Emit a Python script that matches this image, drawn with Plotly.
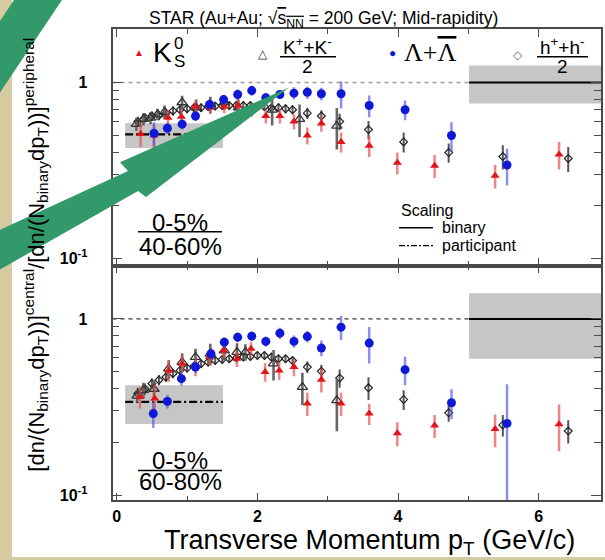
import plotly.graph_objects as go

W, H = 605, 560

# ---------------- data ----------------
k0s_pt_a = [0.34, 0.53, 0.73, 0.92, 1.12, 1.33, 1.53, 1.72, 1.92, 2.12, 2.32, 2.52, 2.71, 2.91, 3.19, 3.59, 3.99, 4.52, 5.38, 6.29]
k0s_rcp_a = [0.51, 0.50, 0.63, 0.64, 0.73, 0.72, 0.73, 0.74, 0.70, 0.645, 0.645, 0.60, 0.50, 0.585, 0.46, 0.437, 0.35, 0.337, 0.295, 0.39]
k0s_err_a = [0.08, 0.08, 0.07, 0.06, 0.06, 0.06, 0.06, 0.06, 0.06, 0.06, 0.06, 0.06, 0.055, 0.06, 0.06, 0.06, 0.05, 0.05, 0.045, 0.07]

lam_pt_a = [0.53, 0.72, 0.93, 1.12, 1.32, 1.52, 1.72, 1.92, 2.12, 2.32, 2.52, 2.71, 2.91, 3.19, 3.59, 4.10, 4.76, 5.55]
lam_rcp_a = [0.515, 0.55, 0.58, 0.645, 0.75, 0.80, 0.855, 0.90, 0.82, 0.855, 0.87, 0.88, 0.863, 0.863, 0.74, 0.70, 0.50, 0.34]
lam_err_a = [0.08, 0.04, 0.04, 0.04, 0.05, 0.05, 0.06, 0.06, 0.05, 0.05, 0.07, 0.07, 0.07, 0.15, 0.105, 0.09, 0.095, 0.08]

h_pt_a = [0.3, 0.4, 0.5, 0.6, 0.7, 0.8, 0.9, 1.0, 1.1, 1.2, 1.3, 1.4, 1.5, 1.6, 1.7, 1.8, 1.9, 2.0, 2.1, 2.2, 2.3, 2.4, 2.5,
          2.71, 2.91, 3.17, 3.58, 4.08, 4.72, 5.49, 6.42]
h_rcp_a = [0.60, 0.63, 0.645, 0.65, 0.67, 0.69, 0.70, 0.71, 0.72, 0.72, 0.73, 0.735, 0.74, 0.74, 0.74, 0.74, 0.74, 0.73, 0.73, 0.72, 0.72, 0.71, 0.70,
           0.67, 0.645, 0.60, 0.54, 0.46, 0.40, 0.38, 0.37]
h_err_a = [0.04, 0.04, 0.04, 0.04, 0.04, 0.04, 0.04, 0.04, 0.04, 0.04, 0.04, 0.04, 0.04, 0.04, 0.04, 0.04, 0.04, 0.04, 0.04, 0.04, 0.04, 0.04, 0.04,
           0.05, 0.05, 0.065, 0.065, 0.06, 0.05, 0.06, 0.06]

kch_pt_a = [0.28, 0.38, 0.48, 0.58, 0.68, 0.93, 1.13, 1.33, 1.53, 1.73, 2.21, 2.60, 3.13]
kch_rcp_a = [0.58, 0.62, 0.63, 0.66, 0.68, 0.77, 0.72, 0.75, 0.77, 0.72, 0.70, 0.62, 0.567]
kch_err_a = [0.05, 0.05, 0.05, 0.05, 0.06, 0.07, 0.08, 0.08, 0.07, 0.08, 0.13, 0.13, 0.15]

k0s_pt_b = [0.33, 0.54, 0.74, 0.93, 1.12, 1.32, 1.52, 1.71, 1.91, 2.11, 2.31, 2.52, 2.71, 2.91, 3.19, 3.59, 3.99, 4.52, 5.38, 6.29]
k0s_rcp_b = [0.36, 0.353, 0.51, 0.557, 0.533, 0.608, 0.662, 0.594, 0.677, 0.50, 0.51, 0.533, 0.331, 0.452, 0.331, 0.29, 0.224, 0.248, 0.237, 0.252]
k0s_err_b = [0.05, 0.07, 0.07, 0.06, 0.06, 0.06, 0.06, 0.06, 0.06, 0.06, 0.06, 0.06, 0.05, 0.07, 0.05, 0.04, 0.035, 0.037, 0.05, 0.075]

lam_pt_b = [0.52, 0.72, 0.92, 1.12, 1.34, 1.53, 1.72, 1.92, 2.12, 2.32, 2.52, 2.71, 2.91, 3.19, 3.59, 4.10, 4.76, 5.55]
lam_rcp_b = [0.29, 0.34, 0.458, 0.533, 0.634, 0.738, 0.788, 0.798, 0.745, 0.83, 0.745, 0.794, 0.683, 0.898, 0.729, 0.515, 0.334, 0.255]
lam_err_b = [0.05, 0.03, 0.04, 0.04, 0.05, 0.05, 0.05, 0.05, 0.05, 0.06, 0.06, 0.06, 0.07, 0.14, 0.17, 0.095, 0.065, 0.17]

h_pt_b = h_pt_a
h_rcp_b = [0.377, 0.40, 0.43, 0.45, 0.468, 0.49, 0.51, 0.526, 0.54, 0.557, 0.569, 0.581, 0.589, 0.594, 0.60, 0.607, 0.612, 0.62, 0.62, 0.607, 0.594, 0.594, 0.58,
           0.533, 0.504, 0.462, 0.406, 0.349, 0.293, 0.25, 0.231]
h_err_b = [0.03, 0.03, 0.03, 0.03, 0.03, 0.03, 0.03, 0.03, 0.03, 0.03, 0.03, 0.03, 0.03, 0.03, 0.03, 0.03, 0.03, 0.03, 0.03, 0.03, 0.03, 0.03, 0.03,
           0.04, 0.045, 0.055, 0.06, 0.045, 0.032, 0.035, 0.035]

kch_pt_b = [0.29, 0.38, 0.53, 0.74, 0.93, 1.12, 1.33, 1.53, 1.71, 1.83, 2.23, 2.64, 3.13]
kch_rcp_b = [0.366, 0.394, 0.40, 0.522, 0.569, 0.607, 0.634, 0.66, 0.648, 0.648, 0.557, 0.41, 0.345]
kch_err_b = [0.03, 0.04, 0.05, 0.06, 0.07, 0.07, 0.09, 0.08, 0.08, 0.07, 0.11, 0.085, 0.115]

band_pt_low = [0.12, 1.51]
band_pt_high = [5.01, 7.0]
npart_a, npart_lo_a, npart_hi_a = 0.508, 0.424, 0.587
npart_b, npart_lo_b, npart_hi_b = 0.338, 0.253, 0.42
nbin_lo_a, nbin_hi_a = 0.76, 1.25
nbin_lo_b, nbin_hi_b = 0.594, 1.40
nbin = 1.0

x_range = [-0.06, 6.886]
ylog_range_a = [-1.04, 0.305]
ylog_range_b = [-1.03, 0.303]

arrow_small_x = [14, 62, 0, 0, 14]
arrow_small_y = [0, 0, 93, 21, 0]
arrow_big_x = [0, 128, 120, 289, 146, 138, 0, 0]
arrow_big_y = [231, 172, 163, 88, 198, 192, 271, 231]

# ---------------- figure ----------------
def px(x):
    return x / W

def py(y):
    return 1 - y / H

SANS = "Liberation Sans, Arial, sans-serif"
SERIF = "Liberation Serif, Times New Roman, serif"
FRAME = "#4a4a4a"

fig = go.Figure()

def add_panel(xa, ya, lo_p, hi_p, part, lo_b, hi_b, dash_col,
              hpt, hv, he, kpt, kv, ke, rpt, rv, re_, bpt, bv, be):
    for (x0, x1), (y0, y1) in [(band_pt_low, (lo_p, hi_p)), (band_pt_high, (lo_b, hi_b))]:
        fig.add_trace(go.Scatter(x=[x0, x1, x1, x0, x0], y=[y0, y0, y1, y1, y0], mode="lines",
                                 fill="toself", fillcolor="#c6c6c6", line=dict(width=0),
                                 xaxis=xa, yaxis=ya, hoverinfo="skip", showlegend=False))
    fig.add_trace(go.Scatter(x=[x_range[0], band_pt_high[0]], y=[nbin, nbin], mode="lines",
                             line=dict(color=dash_col, width=1.3, dash="4px,4px"),
                             xaxis=xa, yaxis=ya, showlegend=False, hoverinfo="skip"))
    fig.add_trace(go.Scatter(x=band_pt_high, y=[nbin, nbin], mode="lines",
                             line=dict(color="black", width=2),
                             xaxis=xa, yaxis=ya, showlegend=False, hoverinfo="skip"))
    fig.add_trace(go.Scatter(x=band_pt_low, y=[part, part], mode="lines",
                             line=dict(color="black", width=2.2, dash="8px,3px,2px,3px"),
                             xaxis=xa, yaxis=ya, showlegend=False, hoverinfo="skip"))
    fig.add_trace(go.Scatter(x=hpt, y=hv, mode="markers",
                             marker=dict(symbol="diamond-open", size=6, color="#222", line=dict(width=1.2)),
                             error_y=dict(type="data", array=he, thickness=2.0, width=0, color="#555"),
                             xaxis=xa, yaxis=ya, showlegend=False))
    fig.add_trace(go.Scatter(x=kpt, y=kv, mode="markers",
                             marker=dict(symbol="triangle-up-open", size=9, color="#333", line=dict(width=1.3)),
                             error_y=dict(type="data", array=ke, thickness=2.6, width=0, color="#666"),
                             xaxis=xa, yaxis=ya, showlegend=False))
    fig.add_trace(go.Scatter(x=rpt, y=rv, mode="markers",
                             marker=dict(symbol="triangle-up", size=8, color="#e0141c"),
                             error_y=dict(type="data", array=re_, thickness=2.5, width=0, color="rgba(235,80,80,0.7)"),
                             xaxis=xa, yaxis=ya, showlegend=False))
    fig.add_trace(go.Scatter(x=bpt, y=bv, mode="markers",
                             marker=dict(symbol="circle", size=9, color="#1018d8"),
                             error_y=dict(type="data", array=be, thickness=2.5, width=0, color="rgba(80,80,235,0.65)"),
                             xaxis=xa, yaxis=ya, showlegend=False))

add_panel("x", "y", npart_lo_a, npart_hi_a, npart_a, nbin_lo_a, nbin_hi_a, "#9a9a9a",
          h_pt_a, h_rcp_a, h_err_a, kch_pt_a, kch_rcp_a, kch_err_a,
          k0s_pt_a, k0s_rcp_a, k0s_err_a, lam_pt_a, lam_rcp_a, lam_err_a)
add_panel("x2", "y2", npart_lo_b, npart_hi_b, npart_b, nbin_lo_b, nbin_hi_b, "#333333",
          h_pt_b, h_rcp_b, h_err_b, kch_pt_b, kch_rcp_b, kch_err_b,
          k0s_pt_b, k0s_rcp_b, k0s_err_b, lam_pt_b, lam_rcp_b, lam_err_b)

ARROW = "#31996a"
for ax_, ay_ in [(arrow_small_x, arrow_small_y), (arrow_big_x, arrow_big_y)]:
    fig.add_trace(go.Scatter(x=ax_, y=ay_, mode="lines", fill="toself", fillcolor=ARROW,
                             line=dict(width=0, color=ARROW), xaxis="x3", yaxis="y3",
                             hoverinfo="skip", showlegend=False))

xdom = [px(112.5), px(601)]
common_x = dict(domain=xdom, range=x_range, showline=True, linecolor=FRAME, linewidth=1.6,
                mirror="allticks", ticks="inside", ticklen=8, tickwidth=1.4, tickcolor=FRAME,
                tickvals=[0, 2, 4, 6], showgrid=False, zeroline=False,
                minor=dict(ticks="inside", ticklen=5, tickvals=[1, 3, 5], tickcolor=FRAME, tickwidth=1.4))
common_y = dict(type="log", showline=True, linecolor=FRAME, linewidth=1.6, mirror="allticks",
                ticks="inside", ticklen=10, tickwidth=1.4, tickcolor=FRAME,
                tickvals=[0.1, 1], ticktext=["10<sup>-1</sup>", "1"],
                tickfont=dict(family=SANS, size=16, color="black", weight="bold"),
                ticklabelstandoff=20, showgrid=False, zeroline=False,
                minor=dict(ticks="inside", ticklen=7, tickvals=[0.2, 0.3, 0.4, 0.5, 0.6, 0.7, 0.8, 0.9],
                           tickcolor=FRAME, tickwidth=1.2))

fig.update_layout(
    width=W, height=H, margin=dict(l=0, r=0, t=0, b=0),
    paper_bgcolor="#d6cba0", plot_bgcolor="rgba(0,0,0,0)",
    xaxis=dict(common_x, anchor="y", showticklabels=False),
    yaxis=dict(common_y, domain=[py(267), py(29)], range=ylog_range_a, anchor="x"),
    xaxis2=dict(common_x, anchor="y2", showticklabels=True,
                tickfont=dict(family=SANS, size=16, color="black", weight="bold"), ticklabelstandoff=1),
    yaxis2=dict(common_y, domain=[py(503), py(267)], range=ylog_range_b, anchor="x2"),
    xaxis3=dict(domain=[0, 1], range=[0, W], visible=False, anchor="y3", fixedrange=True),
    yaxis3=dict(domain=[0, 1], range=[H, 0], visible=False, anchor="x3", fixedrange=True),
)

shapes = []
shapes.append(dict(type="rect", xref="paper", yref="paper", x0=px(12), x1=1.0, y0=0, y1=1,
                   fillcolor="white", line=dict(width=0), layer="below"))

def line(x0, y0, x1, y1, color="black", width=1.5, dash="solid"):
    shapes.append(dict(type="line", xref="paper", yref="paper", x0=px(x0), y0=py(y0), x1=px(x1), y1=py(y1),
                       line=dict(color=color, width=width, dash=dash)))

line(280, 57, 336, 57, width=1.5)
line(537, 57, 588, 57, width=1.5)
line(138, 233, 222, 233, width=1.6)
line(138, 473, 222, 473, width=1.6)
line(399, 229, 433, 229, width=1.5)
line(399, 247, 433, 247, width=1.3, dash="6px,2px,2px,2px")

fig.update_layout(shapes=shapes)

ann = []
def text(x, y, s, size, color="black", family=SANS, xanchor="center", angle=0, align="center"):
    ann.append(dict(x=px(x), y=py(y), xref="paper", yref="paper", text=s, showarrow=False,
                    xanchor=xanchor, yanchor="middle", textangle=angle, align=align,
                    font=dict(family=family, size=size, color=color)))

text(500, 20, "STAR (Au+Au; √<span style='text-decoration:overline'>s<sub>NN</sub></span> = 200 GeV; Mid-rapidity)", 17.5,
     xanchor="right", align="right")
text(139, 53, "▲", 10, color="#e0141c")
text(162, 53, "K", 28)
text(172, 44, "0", 17, xanchor="left")
text(172, 62, "S", 17, xanchor="left")
text(263, 54, "△", 12, color="#333")
text(308, 46, "K<sup>+</sup>+K<sup>-</sup>", 19)
text(308, 67, "2", 19)
text(392, 53, "●", 12, color="#1018d8")
text(430, 53, "Λ+<span style='text-decoration:overline'>Λ</span>", 26, family=SERIF)
text(518, 55, "◇", 12, color="#777")
text(562, 46, "h<sup>+</sup>+h<sup>-</sup>", 19)
text(562, 67, "2", 19)
text(180, 224, "0-5%", 24)
text(180, 248, "40-60%", 24)
text(180, 463, "0-5%", 24)
text(180, 484, "60-80%", 24)
text(399, 212, "Scaling", 16, xanchor="left", align="left")
text(440, 229, "binary", 16, xanchor="left", align="left")
text(440, 247, "participant", 16, xanchor="left", align="left")
text(369, 545, "Transverse Momentum p<sub>T</sub> (GeV/c)", 27)
text(36, 256, "[dn/(N<sub>binary</sub>dp<sub>T</sub>))]<sup>central</sup>/[dn/(N<sub>binary</sub>dp<sub>T</sub>))]<sup>peripheral</sup>",
     22, angle=-90)

fig.update_layout(annotations=ann)

fig.write_html("out.html")
